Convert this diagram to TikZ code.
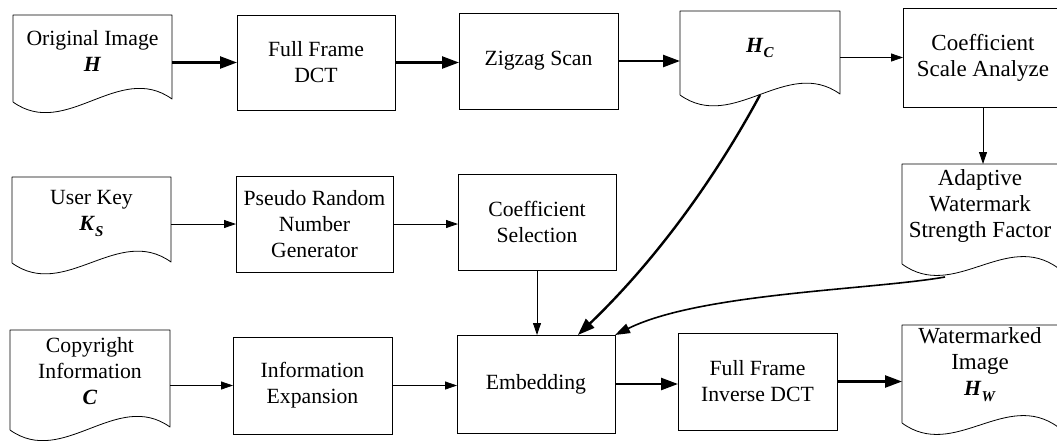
\documentclass[tikz,border=0pt]{standalone}
\usepackage{fontspec}
\setmainfont{Liberation Serif}
\usetikzlibrary{arrows.meta,calc}

\newcommand\bfit[1]{\textbf{\textit{#1}}}
\newcommand\lowsub[2]{\raisebox{#1}{\fontsize{15}{15}\selectfont\bfit{#2}}}
\newcommand\bigtxt{\fontsize{23}{26}\selectfont}

\tikzset{
  every node/.style={outer sep=0pt, inner sep=0pt, align=center,
    font=\fontsize{21.7}{26}\selectfont},
  box/.style={draw, line width=0.8pt},
  doctext/.style={},
  frame/.style={line width=0.8pt, line join=round},
  thinarrow/.style={line width=0.8pt, -{Triangle[length=12pt,width=8pt]}},
  thickarrow/.style={line width=2.4pt, -{Triangle[length=17pt,width=12pt]}},
  midarrow/.style={line width=1.6pt, -{Triangle[length=15pt,width=10pt]}},
}

% #1 name, #2 centre x, #3 top, #4 left side bottom, #5 right side bottom,
% #6 width, #7 text centre y, #8 text
\newcommand\docnode[8]{%
  \node[doctext, minimum width=#6pt] (#1) at (#2,#7) {#8};
  \coordinate (#1-t) at (#2,#3);
  \draw[frame] ({#2-#6/2},#4) -- ({#2-#6/2},#3) -- ({#2+#6/2},#3) -- ({#2+#6/2},#5)
     .. controls ({#2+#6/2-#6/3},{#5-38}) and ({#2-#6/2+#6/3},{#4+38}) .. ({#2-#6/2},#4);
}

\begin{document}
\begin{tikzpicture}[x=1pt,y=-1pt]
\useasboundingbox (0,0) rectangle (1057,440);
\clip (0,0) rectangle (1057,440);
\fill[white] (0,0) rectangle (1057,440);

% row 1
\docnode{orig}{92.5}{15}{102}{99}{159}{51}{Original Image\\\bfit{H}}
\node[box, minimum width=158pt, minimum height=95pt] (ffdct) at (316,62.5) {Full Frame\\DCT};
\node[box, minimum width=159pt, minimum height=96pt] (zig) at (538.5,61) {Zigzag Scan};
\docnode{hc}{760}{11}{95}{94}{160}{48}{\bfit{H}\lowsub{-5pt}{C}}
\node[box, minimum width=160pt, minimum height=99pt, font=\bigtxt] (csa) at (983,57.5) {Coefficient\\Scale Analyze};

% row 2
\docnode{ukey}{91.5}{177}{263}{262}{159}{213}{User Key\\\bfit{K}\lowsub{-6pt}{S}}
\node[box, minimum width=157pt, minimum height=96pt] (prng) at (314.5,224) {Pseudo Random\\Number\\Generator};
\node[box, minimum width=158pt, minimum height=96pt] (coefsel) at (537,222) {Coefficient\\Selection};
\docnode{adapt}{980}{164}{264}{268}{156}{206}{\bigtxt Adaptive\\\bigtxt Watermark\\\bigtxt Strength Factor}

% row 3
\docnode{copy}{90}{330}{430}{427}{160}{371}{Copyright\\Information\\\bfit{C}}
\node[box, minimum width=159pt, minimum height=97pt] (infoexp) at (312.5,385.5) {Information\\Expansion};
\node[box, minimum width=158pt, minimum height=98pt] (embed) at (536,384) {Embedding};
\node[box, minimum width=159pt, minimum height=97pt] (ffidct) at (757.5,381.5) {Full Frame\\Inverse DCT};
\docnode{wm}{980}{325}{423}{427}{156}{365}{\bigtxt Watermarked\\\bigtxt Image\\\bfit{H}\lowsub{-6pt}{W}}

\coordinate (hcw) at (760,95);
\coordinate (adw) at (945,277);
\coordinate (embtop) at ($(embed.north)!0.53!(embed.north east)$);

% connectors
\draw[thickarrow] (orig.east |- ffdct.west) -- (ffdct.west);
\draw[thickarrow] (ffdct.east) -- (zig.west |- ffdct.east);
\draw[thickarrow] (zig.east) -- (hc.west |- zig.east);
\draw[thinarrow] (hc.east |- csa.west) -- (csa.west);
\draw[thinarrow] (csa.south) -- (csa.south |- adapt-t);
\draw[thinarrow] (ukey.east |- prng.west) -- (prng.west);
\draw[thinarrow] (prng.east) -- (coefsel.west |- prng.east);
\draw[thinarrow] (coefsel.south) -- (coefsel.south |- embed.north);
\draw[thinarrow] (copy.east |- infoexp.west) -- (infoexp.west);
\draw[thinarrow] (infoexp.east) -- (embed.west |- infoexp.east);
\draw[thickarrow] (embed.east) -- (ffidct.west |- embed.east);
\draw[thickarrow] (ffidct.east) -- (wm.west |- ffidct.east);
\draw[thickarrow] (hcw) .. controls (712,184) and (652,264) .. (embtop);
\draw[midarrow] (adw) .. controls (870,290) and (700,293) .. (embed.north east);
\end{tikzpicture}
\end{document}
